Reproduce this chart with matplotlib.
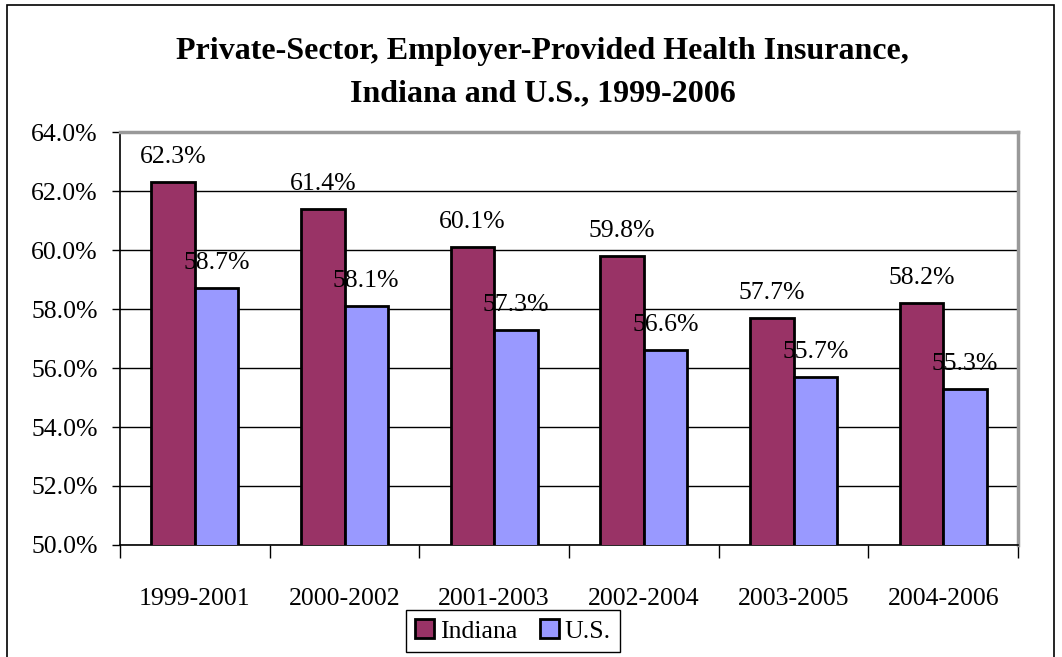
import numpy as np
import matplotlib
matplotlib.use("Agg")
import matplotlib.pyplot as plt
from matplotlib.patches import Rectangle

# Three-year averages, percent of private-sector employees covered
periods = ["1999-2001", "2000-2002", "2001-2003", "2002-2004", "2003-2005", "2004-2006"]
indiana = [62.3, 61.4, 60.1, 59.8, 57.7, 58.2]
us = [58.7, 58.1, 57.3, 56.6, 55.7, 55.3]

plt.rcParams['font.family'] = ['Liberation Serif', 'DejaVu Serif']

fig = plt.figure(figsize=(10.62, 6.57), dpi=100)
ax = fig.add_axes([0.113, 0.1705, 0.8456, 0.6285])

x = np.arange(len(periods))
w = 0.29
b1 = ax.bar(x - w / 2, indiana, w, color='#993366', edgecolor='black',
            linewidth=2, label='Indiana', zorder=3)
b2 = ax.bar(x + w / 2, us, w, color='#9999FF', edgecolor='black',
            linewidth=2, label='U.S.', zorder=3)

# value labels above each bar
for bars, vals in ((b1, indiana), (b2, us)):
    for bar, v in zip(bars, vals):
        ax.annotate(f"{v:.1f}%", (bar.get_x() + bar.get_width() / 2, v),
                    xytext=(0, 10), textcoords='offset points',
                    ha='center', va='bottom', fontsize=18.5, zorder=4)

ax.set_ylim(50, 64)
ax.set_xlim(-0.5, len(periods) - 0.5)
ax.set_yticks(np.arange(50, 64.1, 2))
ax.set_yticklabels([f"{t:.1f}%" for t in np.arange(50, 64.1, 2)])
ax.yaxis.grid(True, color='black', linewidth=1, zorder=0)
ax.set_axisbelow(True)

ax.set_xticks(x)
ax.set_xticklabels(periods)
ax.set_xticks(np.arange(-0.5, len(periods)), minor=True)
ax.tick_params(axis='x', which='major', length=0, pad=31, labelsize=18.5)
ax.tick_params(axis='x', which='minor', length=9, width=1, direction='out')
ax.tick_params(axis='y', length=6, width=1, direction='out', pad=10, labelsize=18.5)

for side in ('top', 'right'):
    ax.spines[side].set_color('#999999')
    ax.spines[side].set_linewidth(2.5)
for side in ('left', 'bottom'):
    ax.spines[side].set_color('black')
    ax.spines[side].set_linewidth(1.2)

fig.text(0.511, 0.889, "Private-Sector, Employer-Provided Health Insurance,\nIndiana and U.S., 1999-2006",
         ha='center', va='center', fontsize=23, fontweight='bold', linespacing=1.6)

leg = fig.legend(loc='center', bbox_to_anchor=(0.483, 0.0396), ncol=2, fontsize=18.5,
                 frameon=True, fancybox=False, edgecolor='black', framealpha=1,
                 handlelength=0.75, handleheight=0.75, handletextpad=0.2,
                 columnspacing=0.9, borderpad=0.35, borderaxespad=0)
leg.get_frame().set_linewidth(1)

# outer chart frame
fig.patches.append(Rectangle((7 / 1062, -0.1), 1047 / 1062, 1.092, transform=fig.transFigure,
                             fill=False, edgecolor='black', linewidth=1.2))

fig.savefig("out.png", dpi=100)
